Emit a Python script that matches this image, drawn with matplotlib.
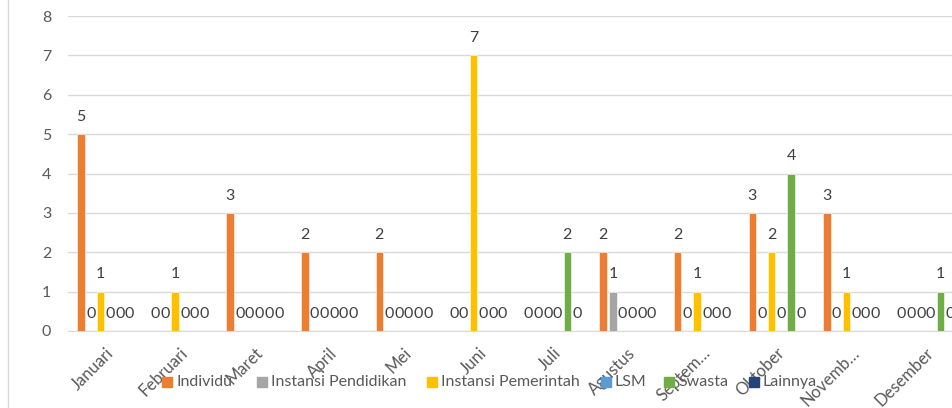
import numpy as np
import matplotlib.pyplot as plt
from matplotlib.lines import Line2D
from matplotlib.patches import Rectangle

plt.rcParams['font.family'] = ['Lato', 'DejaVu Sans']

bulan = ['Januari', 'Februari', 'Maret', 'April', 'Mei', 'Juni', 'Juli',
         'Agustus', 'Septem…', 'Oktober', 'Novemb…', 'Desember']
individu = [5, 0, 3, 2, 2, 0, 0, 2, 2, 3, 3, 0]
pendidikan = [0, 0, 0, 0, 0, 0, 0, 1, 0, 0, 0, 0]
pemerintah = [1, 1, 0, 0, 0, 7, 0, 0, 1, 2, 1, 0]
lsm = [0, 0, 0, 0, 0, 0, 0, 0, 0, 0, 0, 0]
swasta = [0, 0, 0, 0, 0, 0, 2, 0, 0, 4, 0, 1]
lainnya = [0, 0, 0, 0, 0, 0, 0, 0, 0, 0, 0, 0]

series = [('Individu', individu, '#ED7D31'),
          ('Instansi Pendidikan', pendidikan, '#A5A5A5'),
          ('Instansi Pemerintah', pemerintah, '#FFC000'),
          ('LSM', lsm, '#5B9BD5'),
          ('Swasta', swasta, '#70AD47'),
          ('Lainnya', lainnya, '#264478')]

txt = '#595959'
grid = '#D9D9D9'
W, H = 952, 408

fig = plt.figure(figsize=(W / 100, H / 100), dpi=100)
ax = fig.add_axes([68 / W, 77 / H, 895 / W, 315 / H])

x = np.arange(len(bulan))
step = 0.13
width = 0.10
for k, (nama, vals, col) in enumerate(series):
    pos = x + (k - 2.5) * step
    ax.bar(pos, vals, width, color=col, edgecolor='white', linewidth=0.4,
           zorder=3, label=nama)
    for px, v in zip(pos, vals):
        ax.annotate(str(v), (px, v), xytext=(0, 12.5), textcoords='offset points',
                    ha='center', va='center', fontsize=11.5, color='#404040',
                    annotation_clip=False)

ax.set_xlim(-0.5, len(bulan) - 0.5)
ax.set_ylim(0, 8)
ax.set_yticks(range(0, 9))
ax.grid(axis='y', color=grid, linewidth=1, zorder=0)
for s in ['top', 'right', 'left']:
    ax.spines[s].set_visible(False)
ax.spines['bottom'].set_color(grid)
ax.tick_params(axis='y', length=0, pad=12, labelsize=11.5, labelcolor=txt)
ax.tick_params(axis='x', length=0, pad=10, labelsize=12, labelcolor=txt)
ax.set_xticks(x)
ax.set_xticklabels(bulan, rotation=45, ha='right', rotation_mode='anchor')

# legend, laid out by hand like the excel one
leg_x = [162, 257, 427, 601, 664, 749]
leg_y = 382
for lx, (nama, _, col) in zip(leg_x, series):
    fig.add_artist(Rectangle((lx / W, (H - leg_y - 5) / H), 10 / W, 10 / H,
                             transform=fig.transFigure, color=col, zorder=5))
    fig.text((lx + 14) / W, (H - leg_y) / H, nama, ha='left', va='center',
             fontsize=11.5, color=txt, zorder=5)

fig.add_artist(Line2D([7.5 / W, 7.5 / W], [0, 1], color=grid, linewidth=1))

fig.savefig('out.png', dpi=100)
